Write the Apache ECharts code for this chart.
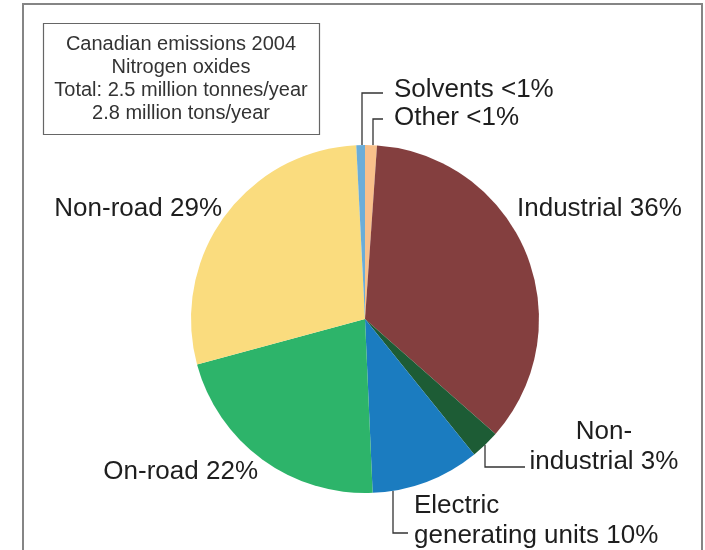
<!DOCTYPE html>
<html>
<head>
<meta charset="utf-8">
<style>
  html, body { margin: 0; padding: 0; background: #fff; }
  #chart { width: 705px; height: 550px; }
</style>
<script src="https://cdn.jsdelivr.net/npm/echarts@6/dist/echarts.min.js"></script>
</head>
<body>
<div id="chart"></div>
<script>
// ---- Data (clockwise from 12 o'clock) ----
const categories = ['Other', 'Industrial', 'Non-industrial', 'Electric generating units', 'On-road', 'Non-road', 'Solvents'];
const shares = [1.1, 35.4, 2.7, 10.1, 21.5, 28.4, 0.8];   // percent of total NOx
const labelTexts = ['Other <1%', 'Industrial 36%', 'Non-\nindustrial 3%', 'Electric\ngenerating units 10%', 'On-road 22%', 'Non-road 29%', 'Solvents <1%'];
const titleLines = ['Canadian emissions 2004', 'Nitrogen oxides', 'Total: 2.5 million tonnes/year', '2.8 million tons/year'];

// ---- Styling / layout ----
const colors = {
  'Other': '#F8C08A',
  'Industrial': '#843F3F',
  'Non-industrial': '#1D5C35',
  'Electric generating units': '#1B7CC0',
  'On-road': '#2DB46A',
  'Non-road': '#FADC7E',
  'Solvents': '#6BADD8'
};
const CX = 365, CY = 319, R = 174;
const FONT = "'Liberation Sans', Arial, sans-serif";
// label placement; leader: vertical segment at lx from pie edge (side) to ly, then horizontal to ex
const labelPos = {
  'Solvents':   { x: 394, y: 90,  align: 'left',  leader: { lx: 362, ly: 93,  ex: 383, side: -1 } },
  'Other':      { x: 394, y: 118, align: 'left',  leader: { lx: 373, ly: 119, ex: 383, side: -1 } },
  'Industrial': { x: 517, y: 209, align: 'left' },
  'Non-industrial': { x: 604, y: 447, align: 'center', leader: { lx: 485, ly: 467, ex: 525, side: 1 } },
  'Electric generating units': { x: 414, y: 521, align: 'left', leader: { lx: 393, ly: 533, ex: 408, side: 1 } },
  'On-road':    { x: 258, y: 472, align: 'right' },
  'Non-road':   { x: 222, y: 209, align: 'right' }
};

const data = categories.map((c, i) => {
  const item = {
    name: c,
    value: shares[i],
    itemStyle: { color: colors[c] },
    label: { formatter: labelTexts[i] }
  };
  if (!labelPos[c].leader) item.labelLine = { show: false };
  return item;
});

const chart = echarts.init(document.getElementById('chart'), null, { renderer: 'canvas' });

chart.setOption({
  animation: false,
  backgroundColor: '#ffffff',
  graphic: [
    {
      type: 'rect',
      shape: { x: 23, y: 4, width: 679, height: 620 },
      style: { fill: 'none', stroke: '#858585', lineWidth: 2 },
      silent: true, z: 0
    },
    {
      type: 'rect',
      shape: { x: 43.5, y: 23.5, width: 276, height: 111 },
      style: { fill: '#fff', stroke: '#666', lineWidth: 1.2 },
      silent: true, z: 1
    },
    {
      type: 'text',
      x: 181, y: 79,
      style: {
        text: titleLines.join('\n'),
        font: '20px ' + FONT,
        fill: '#333',
        align: 'center',
        verticalAlign: 'middle',
        lineHeight: 23
      },
      silent: true, z: 2
    }
  ],
  series: [{
    type: 'pie',
    center: [CX, CY],
    radius: [0, R],
    startAngle: 90,
    clockwise: true,
    avoidLabelOverlap: false,
    emphasis: { disabled: true },
    itemStyle: { borderWidth: 0 },
    label: {
      show: true,
      position: 'outside',
      color: '#1e1e1e',
      fontSize: 26,
      fontFamily: FONT,
      lineHeight: 30
    },
    labelLine: {
      show: true,
      lineStyle: { color: '#333', width: 1.3 }
    },
    labelLayout: function (params) {
      const name = categories[params.dataIndex];
      const p = labelPos[name];
      const res = { x: p.x, y: p.y, align: p.align, verticalAlign: 'middle' };
      if (p.leader) {
        const L = p.leader;
        const dx = L.lx - CX;
        const edgeY = CY + L.side * Math.sqrt(R * R - dx * dx);
        res.labelLinePoints = [[L.lx, edgeY], [L.lx, L.ly], [L.ex, L.ly]];
      }
      return res;
    },
    data: data
  }]
});
</script>
</body>
</html>
